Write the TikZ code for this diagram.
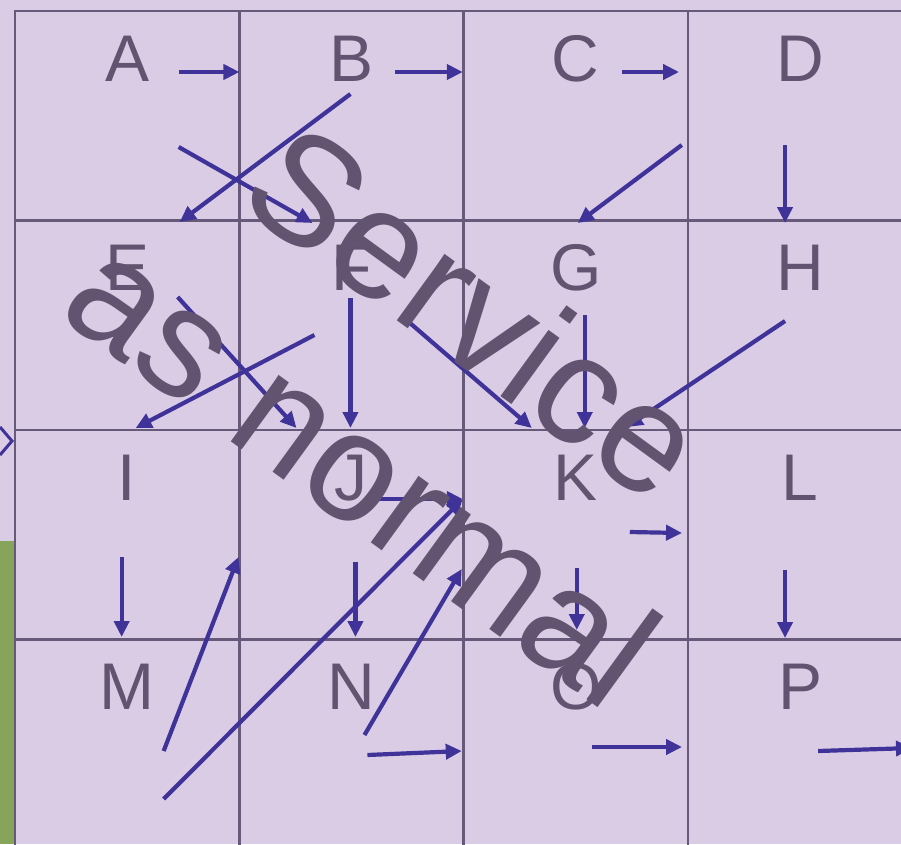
\documentclass[tikz,border=0pt]{standalone}
\usepackage{fontspec}
\setmainfont{Liberation Sans}
\usetikzlibrary{arrows.meta,calc}

\definecolor{lavender}{HTML}{DBCCE6}
\definecolor{gridgray}{HTML}{66597A}
\definecolor{inkgray}{HTML}{625470}
\definecolor{arrowblue}{HTML}{3F3399}
\definecolor{leafgreen}{HTML}{87A55A}

\begin{document}
\begin{tikzpicture}[
  x=1pt, y=-1pt,
  gridline/.style={draw=gridgray, line width=2.5pt},
  letter/.style={anchor=base, inner sep=0pt, text=inkgray,
    font=\fontsize{66}{66}\selectfont},
  banner/.style={anchor=base, inner sep=0pt, text=inkgray, rotate=-36,
    font=\fontsize{155}{155}\selectfont},
  arr/.style={draw=arrowblue, line width=4.2pt,
    -{Triangle[length=16pt,width=15pt]}}
]
\useasboundingbox (0,0) rectangle (901,844);
\clip (0,0) rectangle (901,844);
\fill[lavender] (0,0) rectangle (901,844);
\fill[leafgreen] (0,541) rectangle (15,844);

% cells
\foreach \c in {0,...,4}
  \draw[gridline] ({15+224.3*\c},11) -- ({15+224.3*\c},860);
\foreach \r in {0,...,4}
  \draw[gridline] (14,{11+209.5*\r}) -- (920,{11+209.5*\r});

% states
\foreach \l/\c/\r in {A/0/0, B/1/0, C/2/0, D/3/0, E/0/1, F/1/1, G/2/1, H/3/1,
                      I/0/2, J/1/2, K/2/2, L/3/2, M/0/3, N/1/3, O/2/3, P/3/3}
  \node[letter] (\l) at ({15+224.3*(\c+0.5)},{81+209.5*\r}) {\l};

% transitions
\coordinate (exit) at (912,748);
\foreach \s/\sx/\sy/\t/\tx/\ty in {
    A/51.5/-9/B/-112/-9, B/44/-9/C/-113/-9, C/46/-9/D/-121/-9,
    B/-1/13/E/52.5/-68.5, A/51.5/66/F/-39/-67.5, C/106/64/G/2/-67.5,
    D/-15/64/H/-15/-67.5, E/50.5/6.5/J/-55/-72, F/-37/44.5/I/8.5/-72,
    F/-1/7.5/J/-1/-72, F/55/29.5/K/-44/-72, G/9/24.5/K/9/-72,
    H/-15/30.5/K/51/-73, J/15/-1/K/-113/-1, K/54/32/L/-118/33,
    I/-5.5/57/M/-5.5/-72.5, M/36.5/41.5/J/-113/57, M/36.5/89.5/K/-113/-1,
    J/4/62/N/4/-72.5, N/13/25.5/K/-114/69, K/1/68/O/1/-79.5,
    L/-15/70/P/-15/-71.5, N/16/45.5/O/-114/41.5, O/16/37.5/P/-118/37.5}
  \draw[arr] ($(\s.base)+(\sx,\sy)$) -- ($(\t.base)+(\tx,\ty)$);
\draw[arr] ($(P.base)+(18,41.5)$) -- (exit);
\draw[draw=arrowblue, line width=3pt] (0,427) -- (12,441) -- (0,455);

% watermark
\node[banner] (srv) at (444,355) {Service};
\node[banner] (norm) at (331,514) {as normal};
\end{tikzpicture}
\end{document}
